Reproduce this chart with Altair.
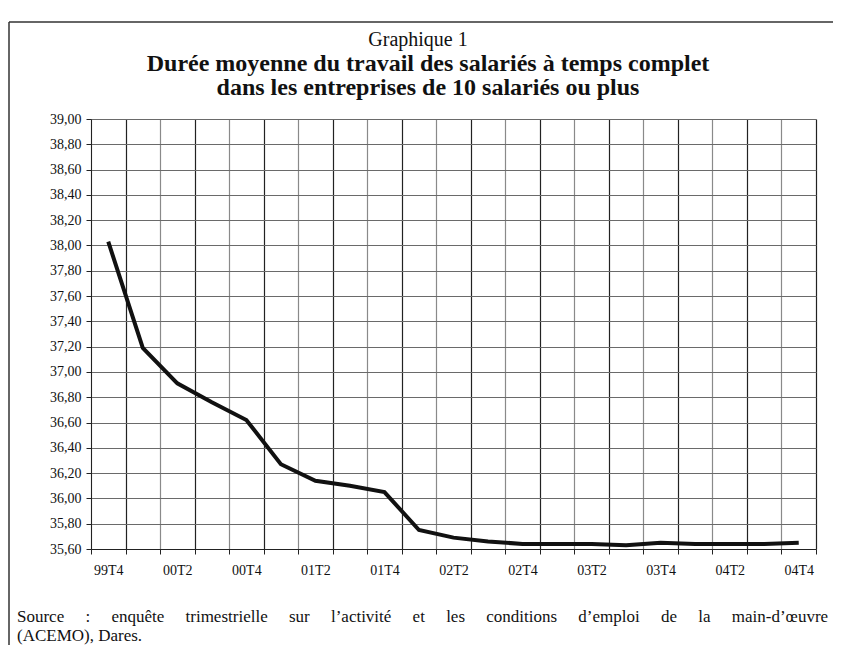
import altair as alt
import pandas as pd

quarters = ["99T4", "00T1", "00T2", "00T3", "00T4", "01T1", "01T2", "01T3", "01T4",
            "02T1", "02T2", "02T3", "02T4", "03T1", "03T2", "03T3", "03T4",
            "04T1", "04T2", "04T3", "04T4"]
durations = [38.03, 37.19, 36.91, 36.76, 36.62, 36.27, 36.14, 36.10, 36.05,
             35.75, 35.69, 35.66, 35.64, 35.64, 35.64, 35.63, 35.65,
             35.64, 35.64, 35.64, 35.65]
y_ticks = [round(35.6 + 0.2 * i, 2) for i in range(18)]

title_line = "Graphique 1"
subtitle_lines = ["Durée moyenne du travail des salariés à temps complet",
                  "dans les entreprises de 10 salariés ou plus"]
source_lines = ["Source : enquête trimestrielle sur l’activité et les conditions d’emploi de la main-d’œuvre",
                "(ACEMO), Dares."]

df = pd.DataFrame({"quarter": quarters, "pos": list(range(len(quarters))), "value": durations})

n = len(quarters)
x_vals = [i - 0.5 for i in range(n + 1)]
q_js = "[" + ",".join("'%s'" % q for q in quarters) + "]"
label_expr = ("(datum.value + 0.5) < %d && (datum.value + 0.5) %% 2 == 0 ? %s[datum.value + 0.5] : ''"
              % (n, q_js))

FONT = "Times New Roman, Liberation Serif, serif"
W, H = 725, 430

line = alt.Chart(df).mark_line(color="#111111", strokeWidth=4).encode(
    x=alt.X("pos:Q", scale=alt.Scale(domain=[-0.5, n - 0.5], nice=False, zero=False),
            axis=alt.Axis(values=x_vals, labelExpr=label_expr, title=None,
                          labelOffset=W / n / 2, tickSize=5, labelPadding=9,
                          labelFont=FONT, labelFontSize=14, labelColor="#111",
                          domainColor="#222", tickColor="#222",
                          gridColor={"condition": {"test": "round(datum.value + 0.5) % 2 == 0",
                                                   "value": "#8a8a8a"},
                                     "value": "#222222"},
                          gridWidth=1.2, labelFlush=False, labelOverlap=False)),
    y=alt.Y("value:Q", scale=alt.Scale(domain=[35.6, 39.0], nice=False, zero=False),
            axis=alt.Axis(values=y_ticks, title=None,
                          labelExpr="replace(format(datum.value, '.2f'), '.', ',')",
                          tickSize=5, labelPadding=5, labelFont=FONT, labelFontSize=14,
                          labelColor="#111", domainColor="#222", tickColor="#222",
                          gridColor="#6a6a6a", gridWidth=1.2)),
)

blank = alt.Data(values=[{"a": 1}])

frame_left = alt.Chart(blank).mark_rule(color="#333", strokeWidth=1.5).encode(
    x=alt.value(-82), y=alt.value(-97), y2=alt.value(530))
frame_top = alt.Chart(blank).mark_rule(color="#333", strokeWidth=1.5).encode(
    x=alt.value(-82), x2=alt.value(760), y=alt.value(-97))

title_mark = alt.Chart(blank).mark_text(align="center", baseline="alphabetic", font=FONT,
                                        fontSize=20, color="#111").encode(
    x=alt.value(327), y=alt.value(-73), text=alt.value(title_line))
subtitle_mark = alt.Chart(blank).mark_text(align="center", baseline="alphabetic", font=FONT,
                                           fontSize=24, fontWeight="bold", lineHeight=24,
                                           color="#111").encode(
    x=alt.value(337), y=alt.value(-48), text=alt.value(subtitle_lines))

gap = "\u00a0" * 5
source = alt.Chart(blank).mark_text(align="left", baseline="alphabetic", font=FONT,
                                    fontSize=17, lineHeight=19, color="#111").encode(
    x=alt.value(-74), y=alt.value(503),
    text=alt.value([source_lines[0].replace(" ", gap), source_lines[1]]))

chart = alt.layer(line, frame_left, frame_top, title_mark, subtitle_mark, source).properties(
    width=W, height=H,
    autosize=alt.AutoSizeParams(type="none"),
    padding={"left": 83, "top": 111, "right": 17, "bottom": 96},
).configure_view(stroke="#222", strokeWidth=1.2).configure(background="white")

chart.save("out.html", embed_options={"renderer": "svg", "actions": False})
